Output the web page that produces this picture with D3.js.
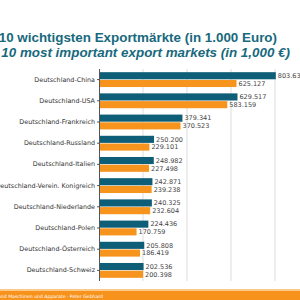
<!DOCTYPE html>
<html>
<head>
<meta charset="utf-8">
<script src="https://cdn.jsdelivr.net/npm/d3@7"></script>
<style>
  body { margin: 0; background: #fff; }
  svg { display: block; }
</style>
</head>
<body>
<svg id="chart" width="300" height="300"></svg>
<script>
// data (values in 1.000 Euro)
let markets = ['Deutschland-China', 'Deutschland-USA', 'Deutschland-Frankreich',
  'Deutschland-Russland', 'Deutschland-Italien', 'Deutschland-Verein. Konigreich',
  'Deutschland-Niederlande', 'Deutschland-Polen', 'Deutschland-Österreich',
  'Deutschland-Schweiz'];
let seriesA = [803636, 629517, 379341, 250200, 248982, 242871, 240325, 224436, 205808, 202536];
let seriesB = [625127, 583159, 370523, 229101, 227498, 239238, 232604, 170759, 186419, 200398];
let gridTicks = [200000, 400000, 600000, 800000];

let titleDe = 'Die 10 wichtigsten Exportmärkte (in 1.000 Euro)';
let titleEn = 'The 10 most important export markets (in 1,000 €)';
let footer = 'Fachverband Maschinen und Apparate · Peter Gebhard';

let svg = d3.select('#chart');
let colA = '#0f5e78';
let colB = '#f7941e';

let de = d3.formatLocale({decimal: ',', thousands: '.', grouping: [3], currency: ['', ' €']});
let fmt = de.format(',');

let sx = d3.scaleLinear()
.domain([0, 1000000])
.range([99, 319]);

let sy = d3.scaleBand()
.domain(markets)
.range([69, 281])
.paddingInner(0.3)
.paddingOuter(0.15);

let sub = d3.scaleBand()
.domain(['a', 'b'])
.range([0, sy.bandwidth()])
.paddingInner(0.08);

// titles
svg.append('text')
.attr('x', 277).attr('y', 42)
.attr('text-anchor', 'end')
.attr('font-family', 'Liberation Sans, Arial, sans-serif')
.attr('font-weight', 'bold')
.attr('font-size', 13.4)
.attr('fill', '#17697d')
.text(titleDe);

svg.append('text')
.attr('x', 290).attr('y', 56.5)
.attr('text-anchor', 'end')
.attr('font-family', 'Liberation Sans, Arial, sans-serif')
.attr('font-weight', 'bold')
.attr('font-style', 'italic')
.attr('font-size', 13.4)
.attr('fill', '#17697d')
.text(titleEn);

// grid
svg.selectAll('.grid')
.data(gridTicks)
.enter()
.append('line')
.attr('class', 'grid')
.attr('x1', d=>sx(d)).attr('x2', d=>sx(d))
.attr('y1', 69).attr('y2', 281)
.attr('stroke', '#dddddd')
.attr('stroke-width', 1);

// bars
let rows = svg.selectAll('.row')
.data(markets)
.enter()
.append('g')
.attr('class', 'row')
.attr('transform', d=>'translate(0,' + sy(d) + ')');

rows.append('rect')
.attr('x', sx(0))
.attr('y', sub('a'))
.attr('width', (_,i)=>sx(seriesA[i]) - sx(0))
.attr('height', sub.bandwidth())
.attr('fill', colA);

rows.append('rect')
.attr('x', sx(0))
.attr('y', sub('b'))
.attr('width', (_,i)=>sx(seriesB[i]) - sx(0))
.attr('height', sub.bandwidth())
.attr('fill', colB);

let valFont = 'DejaVu Sans, Verdana, sans-serif';
rows.append('text')
.attr('x', (_,i)=>sx(seriesA[i]) + 2)
.attr('y', sub('a') + sub.bandwidth()/2)
.attr('dy', '0.35em')
.attr('font-family', valFont)
.attr('font-size', 6.5)
.attr('fill', '#444')
.text((_,i)=>fmt(seriesA[i]));

rows.append('text')
.attr('x', (_,i)=>sx(seriesB[i]) + 2)
.attr('y', sub('b') + sub.bandwidth()/2)
.attr('dy', '0.35em')
.attr('font-family', valFont)
.attr('font-size', 6.5)
.attr('fill', '#444')
.text((_,i)=>fmt(seriesB[i]));

// category axis
let yAxis = svg.append('g')
.attr('transform', 'translate(' + sx(0) + ',0)')
.call(d3.axisLeft(sy).tickSize(2).tickPadding(2));
yAxis.select('.domain').attr('stroke', '#555').attr('d', 'M0.5,69V281');
yAxis.selectAll('.tick line').attr('stroke', '#555');
yAxis.selectAll('.tick text')
.attr('font-family', valFont)
.attr('font-size', 6.4)
.attr('fill', '#333');

// footer band
svg.append('rect')
.attr('x', 0).attr('y', 291)
.attr('width', 300).attr('height', 9)
.attr('fill', '#f7931d');
svg.append('rect')
.attr('x', 0).attr('y', 289)
.attr('width', 300).attr('height', 2)
.attr('fill', '#fbc98a');
svg.append('text')
.attr('x', 103).attr('y', 297.5)
.attr('text-anchor', 'end')
.attr('font-family', valFont)
.attr('font-size', 4.6)
.attr('fill', '#fff')
.text(footer);
</script>
</body>
</html>
